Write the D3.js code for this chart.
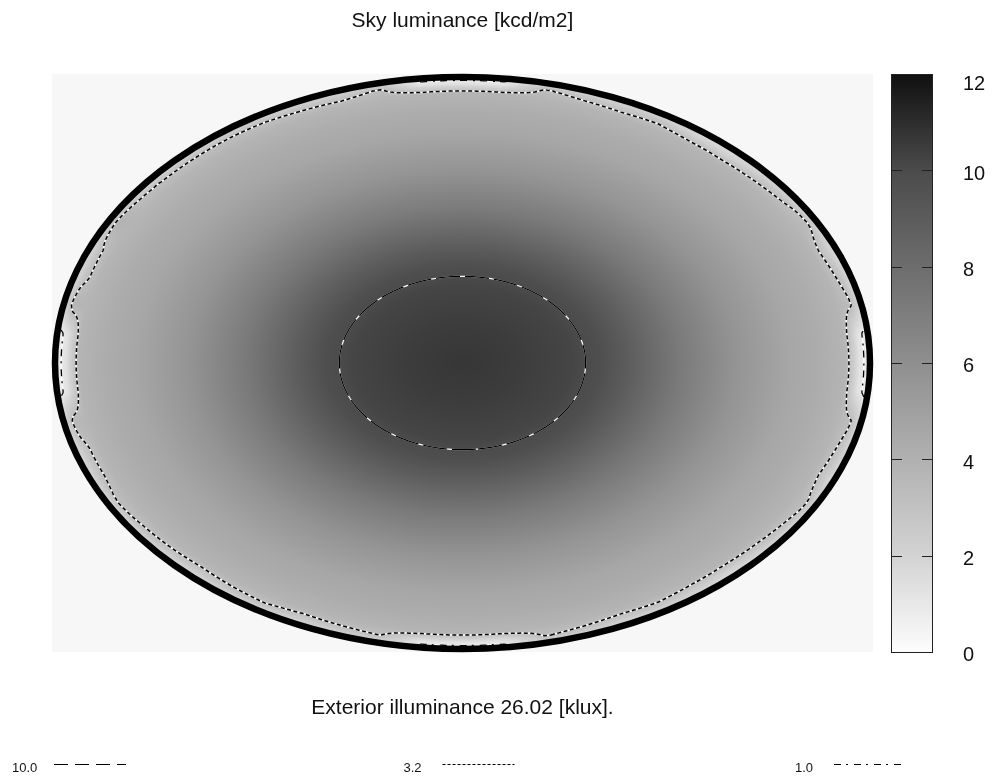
<!DOCTYPE html>
<html>
<head>
<meta charset="utf-8">
<script src="https://cdn.jsdelivr.net/npm/d3@7"></script>
<style>
  html, body { margin: 0; padding: 0; background: #ffffff; }
  #wrap { position: relative; width: 994px; height: 778px; overflow: hidden; }
  #wrap canvas, #wrap svg { position: absolute; left: 0; top: 0; }
  text { font-family: "Liberation Sans", Arial, Helvetica, sans-serif; fill: #111; }
</style>
</head>
<body>
<div id="wrap"></div>
<script>
// Sky luminance (kcd/m2) by altitude above the horizon, same for every azimuth
const altitudeDeg = [6, 12, 18, 30, 42, 54, 60, 66, 78, 90];
const luminance   = [3.8, 4.3, 4.6, 5.7, 7.2, 9.0, 9.8, 10.2, 10.5, 10.7];

// Below 6° the luminance varies with azimuth (0 = top of the map, clockwise)
const rimAzimuthDeg = [0, 6, 12, 18, 24, 30, 36, 42, 48, 54, 60, 66, 72, 78, 84,
                       90, 96, 102, 108, 114, 120, 126, 132, 138, 144, 150, 156, 162, 168, 174,
                       180, 186, 192, 198, 204, 210, 216, 222, 228, 234, 240, 246, 252, 258, 264,
                       270, 276, 282, 288, 294, 300, 306, 312, 318, 324, 330, 336, 342, 348, 354];
// at the horizon
const rimLumHorizon = [0.4, 0.4, 1.1, 1.1, 1.1, 1.1, 1.1, 1.1, 1.1, 1.1, 1.1, 1.1, 1.1, 1.1, 0.4,
                       0.4, 0.4, 1.1, 1.1, 1.1, 1.1, 1.1, 1.1, 1.1, 1.1, 1.1, 1.1, 1.1, 1.1, 0.4,
                       0.4, 0.4, 1.1, 1.1, 1.1, 1.1, 1.1, 1.1, 1.1, 1.1, 1.1, 1.1, 1.1, 1.1, 0.4,
                       0.4, 0.4, 1.1, 1.1, 1.1, 1.1, 1.1, 1.1, 1.1, 1.1, 1.1, 1.1, 1.1, 1.1, 0.4];
// at 3° altitude
const rimLumAlt3    = [1.30, 1.30, 3.29, 2.88, 2.60, 2.88, 2.22, 2.09, 2.60, 2.99, 3.43, 2.60, 2.95, 3.29, 1.30,
                       1.30, 1.30, 3.29, 2.95, 2.60, 3.29, 2.99, 2.60, 2.22, 2.44, 2.88, 2.60, 2.95, 3.22, 1.30,
                       1.30, 1.30, 3.13, 2.88, 2.60, 3.05, 2.88, 2.60, 2.88, 3.05, 3.29, 2.88, 2.88, 3.60, 1.30,
                       1.30, 1.30, 3.79, 2.88, 2.99, 3.90, 3.29, 3.15, 3.13, 3.13, 3.10, 2.92, 2.78, 3.29, 1.30];

// Isoluminance lines and their legend labels
const contourLevels = [10.0, 3.2, 1.0];
const contourLabels = ["10.0", "3.2", "1.0"];

// Colour bar
const colorTicks = [0, 2, 4, 6, 8, 10, 12];

const titleText = "Sky luminance [kcd/m2]";
const exteriorIlluminance = 26.02;

// ---------------------------------------------------------------------------
const W = 994, H = 778;
const plot = { x0: 52, x1: 873, y0: 74, y1: 652 };
const cx = (plot.x0 + plot.x1) / 2, cy = (plot.y0 + plot.y1) / 2;
const rx = (plot.x1 - plot.x0) / 2, ry = (plot.y1 - plot.y0) / 2;

// grey colour map, white at 0 and near black at 12
const color = d3.scaleLinear()
  .domain([0, 2, 4, 6, 8, 10, 12])
  .range(["#fdfdfd", "#d3d3d3", "#b1b1b1", "#8f8f8f", "#6d6d6d", "#4b4b4b", "#101010"])
  .clamp(true);

const profile = d3.scaleLinear().domain(altitudeDeg).range(luminance).clamp(true);
const rimAt0 = d3.scaleLinear().domain([...rimAzimuthDeg, 360]).range([...rimLumHorizon, rimLumHorizon[0]]);
const rimAt3 = d3.scaleLinear().domain([...rimAzimuthDeg, 360]).range([...rimLumAlt3, rimLumAlt3[0]]);
const lumAt6 = profile(6);

// normalised sky coordinates: zenith at (0,0), horizon at radius 1
const ux = d3.scaleLinear().domain([-1, 1]).range([plot.x0, plot.x1]);
const vy = d3.scaleLinear().domain([-1, 1]).range([plot.y0, plot.y1]);

function skyValue(u, v) {
  const r = Math.min(1, Math.hypot(u, v));
  const alt = 90 * (1 - r);
  if (alt >= 6) return profile(alt);
  let az = Math.atan2(u, -v) * 180 / Math.PI;
  if (az < 0) az += 360;
  const l0 = rimAt0(az), l3 = rimAt3(az);
  return alt < 3 ? l0 + (l3 - l0) * alt / 3 : l3 + (lumAt6 - l3) * (alt - 3) / 3;
}

const wrap = d3.select("#wrap");

// ---- luminance raster -----------------------------------------------------
const canvas = wrap.append("canvas").attr("width", W).attr("height", H).node();
const ctx = canvas.getContext("2d");
{
  const pw = plot.x1 - plot.x0, ph = plot.y1 - plot.y0;
  const img = ctx.createImageData(pw, ph);
  const bg = d3.rgb("#f7f7f7");
  for (let j = 0; j < ph; j++) {
    const v = vy.invert(plot.y0 + j + 0.5);
    for (let i = 0; i < pw; i++) {
      const u = ux.invert(plot.x0 + i + 0.5);
      const k = (j * pw + i) * 4;
      const c = (u * u + v * v > 1) ? bg : d3.rgb(color(skyValue(u, v)));
      img.data[k] = c.r; img.data[k + 1] = c.g; img.data[k + 2] = c.b; img.data[k + 3] = 255;
    }
  }
  ctx.putImageData(img, plot.x0, plot.y0);
}

// ---- vector layer -----------------------------------------------------------
const svg = wrap.append("svg").attr("width", W).attr("height", H);
const defs = svg.append("defs");

defs.append("clipPath").attr("id", "skyClip")
  .append("ellipse").attr("cx", cx).attr("cy", cy).attr("rx", rx - 1).attr("ry", ry - 1);

// contour lines from a sampled grid
const cell = 2;
const nx = Math.ceil((plot.x1 - plot.x0) / cell), ny = Math.ceil((plot.y1 - plot.y0) / cell);
const grid = new Float64Array(nx * ny);
for (let j = 0; j < ny; j++) {
  const v = vy.invert(plot.y0 + (j + 0.5) * cell);
  for (let i = 0; i < nx; i++) {
    grid[j * nx + i] = skyValue(ux.invert(plot.x0 + (i + 0.5) * cell), v);
  }
}
const contourGen = d3.contours().size([nx, ny]);
const gridPath = d3.geoPath(d3.geoIdentity().scale(cell).translate([plot.x0, plot.y0]));

const lineStyles = {
  "10.0": { dash: "24,5", width: 1.2, legendDash: "14,7" },
  "3.2":  { dash: "4,2.5", width: 1.5, legendDash: "3,2" },
  "1.0":  { dash: "7,5,2,6", width: 1.3, legendDash: "7,5,2,6" }
};

const contourG = svg.append("g").attr("clip-path", "url(#skyClip)");
contourLevels.forEach((lvl, i) => {
  const geom = contourGen.contour(grid, lvl);
  const st = lineStyles[contourLabels[i]];
  contourG.append("path").attr("d", gridPath(geom))
    .attr("fill", "none").attr("stroke", "#ffffff").attr("stroke-width", st.width);
  contourG.append("path").attr("d", gridPath(geom))
    .attr("fill", "none").attr("stroke", "#000000").attr("stroke-width", st.width)
    .attr("stroke-dasharray", st.dash);
});

// horizon
svg.append("ellipse")
  .attr("cx", cx).attr("cy", cy).attr("rx", rx - 3).attr("ry", ry - 3)
  .attr("fill", "none").attr("stroke", "#000").attr("stroke-width", 6.5);

// ---- colour bar -------------------------------------------------------------
const cb = { x: 891, w: 41 };
const cbScale = d3.scaleLinear().domain([0, 12]).range([plot.y1, plot.y0]);
const grad = defs.append("linearGradient").attr("id", "cbGrad")
  .attr("x1", 0).attr("y1", 1).attr("x2", 0).attr("y2", 0);
color.domain().forEach(d => {
  grad.append("stop").attr("offset", d / 12).attr("stop-color", color(d));
});
svg.append("rect")
  .attr("x", cb.x + 0.5).attr("y", cbScale(12) + 0.5)
  .attr("width", cb.w).attr("height", cbScale(0) - cbScale(12))
  .attr("fill", "url(#cbGrad)").attr("stroke", "#222").attr("stroke-width", 1);

const inner = colorTicks.filter(t => t > 0 && t < 12);
const tickY = d => Math.round(cbScale(d)) + 0.5;
svg.append("g").selectAll("line").data(inner).join("line")
  .attr("x1", cb.x).attr("x2", cb.x + 11)
  .attr("y1", tickY).attr("y2", tickY)
  .attr("stroke", "#222").attr("stroke-width", 1);
svg.append("g").selectAll("line").data(inner).join("line")
  .attr("x1", cb.x + cb.w - 10).attr("x2", cb.x + cb.w + 1)
  .attr("y1", tickY).attr("y2", tickY)
  .attr("stroke", "#222").attr("stroke-width", 1);

svg.append("g").selectAll("text").data(colorTicks).join("text")
  .attr("x", 963)
  .attr("y", d => Math.max(cbScale(d) + 2, cbScale(12) + 9))
  .attr("dy", "0.36em")
  .style("font-size", "20px")
  .text(d => d);

// ---- titles -----------------------------------------------------------------
svg.append("text").attr("x", cx).attr("y", 27).attr("text-anchor", "middle")
  .style("font-size", "21px").text(titleText);

svg.append("text").attr("x", cx).attr("y", 714).attr("text-anchor", "middle")
  .style("font-size", "21px")
  .text(`Exterior illuminance ${exteriorIlluminance.toFixed(2)} [klux].`);

// ---- line legend --------------------------------------------------------------
const legend = svg.append("g").selectAll("g").data(contourLabels).join("g")
  .attr("transform", (d, i) => `translate(${12 + i * 391.5},0)`);
legend.append("text").attr("x", 0).attr("y", 772)
  .style("font-size", "13px").text(d => d);
legend.append("line")
  .attr("x1", d => d.length > 3 ? 42 : 39)
  .attr("x2", d => (d.length > 3 ? 42 : 39) + 72)
  .attr("y1", 764.5).attr("y2", 764.5)
  .attr("stroke", "#000").attr("stroke-width", 1)
  .attr("stroke-dasharray", d => lineStyles[d].legendDash);
</script>
</body>
</html>
